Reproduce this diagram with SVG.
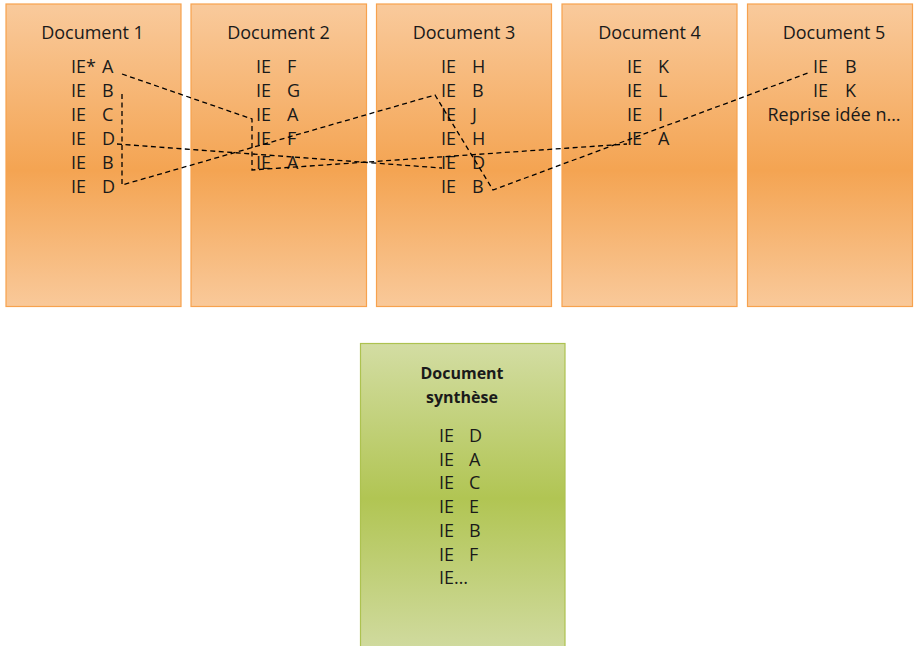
<svg xmlns="http://www.w3.org/2000/svg" width="914" height="646" viewBox="0 0 914 646">
<defs>
<linearGradient id="og" x1="0" y1="0" x2="0" y2="1">
<stop offset="0" stop-color="#f9ca9c"/>
<stop offset="0.55" stop-color="#f4a452"/>
<stop offset="1" stop-color="#f9c99a"/>
</linearGradient>
<linearGradient id="gg" x1="0" y1="0" x2="0" y2="1">
<stop offset="0" stop-color="#d3dda3"/>
<stop offset="0.5" stop-color="#b1c553"/>
<stop offset="1" stop-color="#d1dba1"/>
</linearGradient>
</defs>
<style>
.box{fill:url(#og);stroke:#f7a24e;stroke-width:1.2}
.gbox{fill:url(#gg);stroke:#adc250;stroke-width:1.2}
text{font-family:"Open Sans","Noto Sans",sans-serif;font-size:18px;fill:#1a1a1a}
.t{text-anchor:middle}
.b{font-weight:bold;font-size:16px;text-anchor:middle}
.c{fill:none;stroke:#000;stroke-width:1.3;stroke-dasharray:5,3.5}
</style>
<g id="doc1">
<rect class="box" x="6" y="4" width="175" height="302.5"/>
<text class="t" x="92.5" y="39">Document 1</text>
<text y="73"><tspan x="71">IE*</tspan><tspan x="102">A</tspan></text>
<text y="97"><tspan x="71">IE</tspan><tspan x="102">B</tspan></text>
<text y="121"><tspan x="71">IE</tspan><tspan x="102">C</tspan></text>
<text y="145"><tspan x="71">IE</tspan><tspan x="102">D</tspan></text>
<text y="169"><tspan x="71">IE</tspan><tspan x="102">B</tspan></text>
<text y="193"><tspan x="71">IE</tspan><tspan x="102">D</tspan></text>
</g>
<g id="doc2">
<rect class="box" x="191" y="4" width="175.5" height="302.5"/>
<text class="t" x="278.5" y="39">Document 2</text>
<text y="73"><tspan x="256">IE</tspan><tspan x="287">F</tspan></text>
<text y="97"><tspan x="256">IE</tspan><tspan x="287">G</tspan></text>
<text y="121"><tspan x="256">IE</tspan><tspan x="287">A</tspan></text>
<text y="145"><tspan x="256">IE</tspan><tspan x="287">F</tspan></text>
<text y="169"><tspan x="256">IE</tspan><tspan x="287">A</tspan></text>
</g>
<g id="doc3">
<rect class="box" x="376.5" y="4" width="175" height="302.5"/>
<text class="t" x="464" y="39">Document 3</text>
<text y="73"><tspan x="441">IE</tspan><tspan x="472">H</tspan></text>
<text y="97"><tspan x="441">IE</tspan><tspan x="472">B</tspan></text>
<text y="121"><tspan x="441">IE</tspan><tspan x="472">J</tspan></text>
<text y="145"><tspan x="441">IE</tspan><tspan x="472">H</tspan></text>
<text y="169"><tspan x="441">IE</tspan><tspan x="472">D</tspan></text>
<text y="193"><tspan x="441">IE</tspan><tspan x="472">B</tspan></text>
</g>
<g id="doc4">
<rect class="box" x="562" y="4" width="175" height="302.5"/>
<text class="t" x="649.5" y="39">Document 4</text>
<text y="73"><tspan x="627">IE</tspan><tspan x="658">K</tspan></text>
<text y="97"><tspan x="627">IE</tspan><tspan x="658">L</tspan></text>
<text y="121"><tspan x="627">IE</tspan><tspan x="658">I</tspan></text>
<text y="145"><tspan x="627">IE</tspan><tspan x="658">A</tspan></text>
</g>
<g id="doc5">
<rect class="box" x="747.5" y="4" width="165" height="302.5"/>
<text class="t" x="834" y="39">Document 5</text>
<text y="73"><tspan x="813">IE</tspan><tspan x="845">B</tspan></text>
<text y="97"><tspan x="813">IE</tspan><tspan x="845">K</tspan></text>
<text class="t" x="834" y="121">Reprise idée n…</text>
</g>
<g id="synthese">
<rect class="gbox" x="360.5" y="343.5" width="204.5" height="310"/>
<text class="b" x="462" y="379">Document</text>
<text class="b" x="462" y="403">synthèse</text>
<text y="442"><tspan x="439">IE</tspan><tspan x="469">D</tspan></text>
<text y="465.7"><tspan x="439">IE</tspan><tspan x="469">A</tspan></text>
<text y="489.4"><tspan x="439">IE</tspan><tspan x="469">C</tspan></text>
<text y="513.1"><tspan x="439">IE</tspan><tspan x="469">E</tspan></text>
<text y="536.8"><tspan x="439">IE</tspan><tspan x="469">B</tspan></text>
<text y="560.5"><tspan x="439">IE</tspan><tspan x="469">F</tspan></text>
<text x="439" y="584.2">IE…</text>
</g>
<g id="connectors">
<polyline class="c" points="122,74 252,119 252,170 627,144"/>
<polyline class="c" points="122,94 122,185 435,95 493,190 808,73"/>
<polyline class="c" points="117,144 442,168"/>
</g>
</svg>
